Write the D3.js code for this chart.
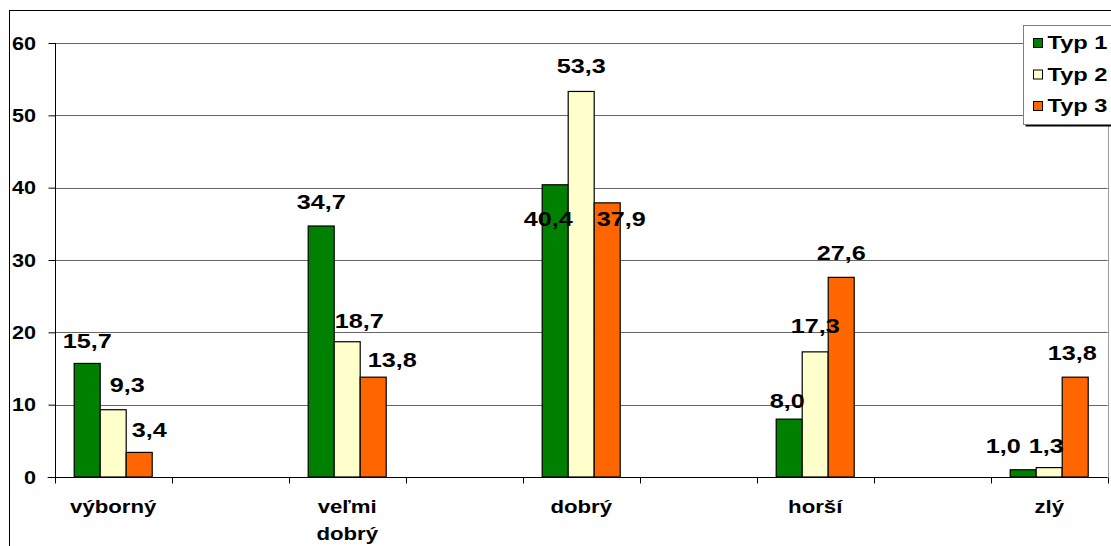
<!DOCTYPE html>
<html>
<head>
<meta charset="utf-8">
<script src="https://cdn.jsdelivr.net/npm/d3@7"></script>
<style>
  body { margin: 0; background: #fff; }
  svg text { font-family: "Liberation Sans", Arial, sans-serif; font-weight: bold; fill: #000; }
</style>
</head>
<body>
<div id="chart"></div>
<script>
// chart data
const categories = ["výborný", "veľmi dobrý", "dobrý", "horší", "zlý"];
const series = ["Typ 1", "Typ 2", "Typ 3"];
const typ1 = [15.7, 34.7, 40.4, 8.0, 1.0];
const typ2 = [9.3, 18.7, 53.3, 17.3, 1.3];
const typ3 = [3.4, 13.8, 37.9, 27.6, 13.8];
const yTicks = [0, 10, 20, 30, 40, 50, 60];

const colors = ["#008000", "#FFFFCC", "#FF6600"];
// manual label nudges [dx, dy] as in the original layout
const nudge = [
    [[0, 0], [14, -3], [10, 0]],
    [[0, -2], [12, 1], [19, 5]],
    [[-7, 56], [0, -3], [14, 38]],
    [[-2, 4], [0, -4], [0, -2]],
    [[-20, -2], [-3, 0], [-3, -2]]
];
const sx = 1.2; // text in the source is horizontally stretched

const W = 1111, H = 546;
const mLeft = 54.7, mRight = 1107.7, mTop = 43, mBottom = 477;

const svg = d3.select("#chart")
    .append("svg")
    .attr("width", W)
    .attr("height", H);

// outer chart frame (cut off at right and bottom)
svg.append("rect")
    .attr("x", 9.5).attr("y", 10.5)
    .attr("width", W + 20).attr("height", H + 20)
    .attr("fill", "none").attr("stroke", "#000");

// 9 slots, categories in every other one
const slots = d3.range(categories.length * 2 - 1);
const x = d3.scaleBand().domain(slots).range([mLeft, mRight]).paddingInner(0).paddingOuter(0);
const xs = d3.scaleBand().domain(d3.range(series.length)).range([0, x.bandwidth()]).paddingInner(0).paddingOuter(0.75);
const y = d3.scaleLinear().domain([0, 60]).range([mBottom, mTop]);

// gridlines
svg.append("g")
    .selectAll("line")
    .data(yTicks.filter(d => d > 0))
    .join("line")
    .attr("x1", mLeft).attr("x2", mRight)
    .attr("y1", d => Math.round(y(d)) + 0.5).attr("y2", d => Math.round(y(d)) + 0.5)
    .attr("stroke", "#666");

// right plot border
svg.append("line")
    .attr("x1", Math.round(mRight) + 0.5).attr("x2", Math.round(mRight) + 0.5)
    .attr("y1", y(60)).attr("y2", y(0))
    .attr("stroke", "#9a9a9a");

// y axis
const yAxis = svg.append("g")
    .attr("transform", `translate(${Math.round(mLeft) + 0.5},0)`)
    .call(d3.axisLeft(y).tickValues(yTicks).tickSize(7).tickPadding(0).tickFormat(d => ""));
yAxis.select(".domain").attr("stroke", "#000").attr("d", `M0,${y(60)}V${y(0)}`);
yAxis.selectAll(".tick line").attr("stroke", "#000");
svg.append("g").selectAll("text")
    .data(yTicks)
    .join("text")
    .attr("transform", d => `translate(36,${y(d) + 6.5}) scale(${sx},1)`)
    .attr("text-anchor", "end")
    .style("font-size", "18px")
    .text(d => d);

// x axis
const xAxisG = svg.append("g")
    .attr("transform", `translate(0,${Math.round(mBottom) + 0.5})`);
xAxisG.append("line")
    .attr("x1", mLeft - 7).attr("x2", mRight)
    .attr("stroke", "#000");
xAxisG.selectAll(".xt")
    .data(slots.concat([slots.length]))
    .join("line")
    .attr("class", "xt")
    .attr("x1", d => Math.round(mLeft + d * x.step()) + 0.5)
    .attr("x2", d => Math.round(mLeft + d * x.step()) + 0.5)
    .attr("y1", 0).attr("y2", 6)
    .attr("stroke", "#000");

// category labels
const catLabels = svg.append("g").selectAll("text")
    .data(categories)
    .join("text")
    .attr("transform", (d, i) => `translate(${x(i * 2) + x.bandwidth() / 2},513) scale(${sx},1)`)
    .attr("text-anchor", "middle")
    .style("font-size", "18.5px");
catLabels.each(function (d) {
    const words = d.split(" ");
    d3.select(this).selectAll("tspan")
        .data(words)
        .join("tspan")
        .attr("x", 0)
        .attr("dy", (w, j) => j === 0 ? 0 : 27)
        .text(w => w);
});

// bars
const values = [typ1, typ2, typ3];
const rows = [];
categories.forEach((c, i) => {
    series.forEach((s, k) => rows.push({ ci: i, si: k, value: values[k][i] }));
});

svg.append("g")
    .selectAll("rect")
    .data(rows)
    .join("rect")
    .attr("x", d => x(d.ci * 2) + xs(d.si))
    .attr("y", d => y(d.value))
    .attr("width", xs.bandwidth())
    .attr("height", d => y(0) - y(d.value))
    .attr("fill", d => colors[d.si])
    .attr("stroke", "#000")
    .attr("stroke-width", 1.2);

// value labels
svg.append("g")
    .selectAll("text")
    .data(rows)
    .join("text")
    .attr("transform", d => {
        const n = nudge[d.ci][d.si];
        const cx = x(d.ci * 2) + xs(d.si) + xs.bandwidth() / 2 + n[0];
        const cy = y(d.value) - 15 + n[1];
        return `translate(${cx},${cy}) scale(${sx},1)`;
    })
    .attr("text-anchor", "middle")
    .style("font-size", "21px")
    .text(d => d3.format(".1f")(d.value).replace(".", ","));

// legend
const lg = svg.append("g").attr("transform", "translate(1023.5,25.5)");
lg.append("rect")
    .attr("x", 2).attr("y", 2).attr("width", 110).attr("height", 99)
    .attr("fill", "#000");
lg.append("rect")
    .attr("width", 110).attr("height", 99)
    .attr("fill", "#fff").attr("stroke", "#808080");
const li = lg.selectAll(".li")
    .data(series)
    .join("g")
    .attr("class", "li")
    .attr("transform", (d, i) => `translate(10,${13 + i * 31.5})`);
li.append("rect")
    .attr("width", 9).attr("height", 9)
    .attr("fill", (d, i) => colors[i])
    .attr("stroke", "#000");
li.append("text")
    .attr("transform", `translate(14,10.5) scale(1.35,1)`)
    .style("font-size", "17.5px")
    .text(d => d);
</script>
</body>
</html>
